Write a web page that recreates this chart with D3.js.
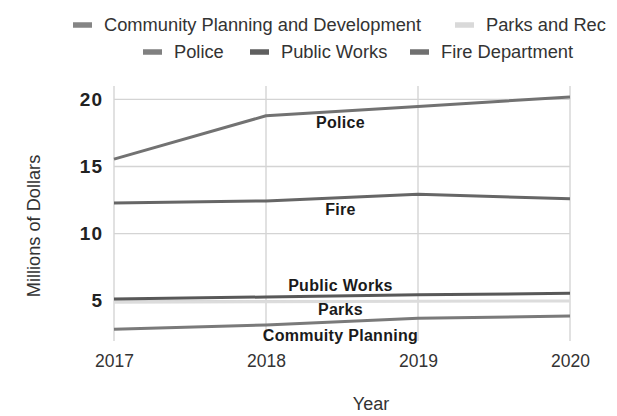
<!DOCTYPE html>
<html>
<head>
<meta charset="utf-8">
<script src="https://cdn.jsdelivr.net/npm/d3@7"></script>
<style>
  body { margin: 0; background: #fff; }
  svg { display: block; font-family: "Liberation Sans", Arial, sans-serif; }
</style>
</head>
<body>
<div id="chart"></div>
<script>
// chart data
const years = [2017, 2018, 2019, 2020];
const yTicks = [5, 10, 15, 20];
const communityPlanning = [2.87, 3.19, 3.69, 3.86];
const parksRec = [4.88, 4.92, 4.96, 4.98];
const police = [15.55, 18.78, 19.48, 20.18];
const publicWorks = [5.13, 5.28, 5.45, 5.55];
const fireDept = [12.29, 12.44, 12.94, 12.59];

const series = [
  { name: 'Community Planning and Development', values: communityPlanning, color: '#7a7a7a', swatch: '#858585' },
  { name: 'Parks and Rec', values: parksRec, color: '#dcdcdc', swatch: '#d9d9d9' },
  { name: 'Police', values: police, color: '#727272', swatch: '#808080' },
  { name: 'Public Works', values: publicWorks, color: '#585858', swatch: '#5f5f5f' },
  { name: 'Fire Department', values: fireDept, color: '#666666', swatch: '#707070' }
];

// inline labels, placed in data units
const lineLabels = [
  { text: 'Police', year: 2018.49, value: 18.28 },
  { text: 'Fire', year: 2018.49, value: 11.79 },
  { text: 'Public Works', year: 2018.49, value: 6.12 },
  { text: 'Parks', year: 2018.49, value: 4.4 },
  { text: 'Commuity Planning', year: 2018.49, value: 2.4 }
];

const width = 617;
const height = 416;
const margin = { top: 86, right: 47, bottom: 75, left: 114 };

// legend layout: [row, swatch x]
const legendPos = [[0, 73], [0, 455], [1, 143], [1, 250], [1, 410]];
const legendRowY = [25, 52];

const svg = d3.select('#chart')
  .append('svg')
  .attr('width', width)
  .attr('height', height);

const x = d3.scaleLinear()
  .domain([2017, 2020])
  .range([margin.left, width - margin.right]);

const y = d3.scaleLinear()
  .domain([2, 21])
  .range([height - margin.bottom, margin.top]);

// grid
const grid = svg.append('g').attr('class', 'grid');
grid.selectAll('.hgrid')
  .data(yTicks)
  .join('line')
  .attr('x1', x(2017))
  .attr('x2', x(2020))
  .attr('y1', d => y(d))
  .attr('y2', d => y(d))
  .attr('stroke', '#d4d4d4')
  .attr('stroke-width', 1.4);

grid.selectAll('.vgrid')
  .data(years)
  .join('line')
  .attr('x1', d => x(d))
  .attr('x2', d => x(d))
  .attr('y1', y.range()[1])
  .attr('y2', y.range()[0])
  .attr('stroke', '#d4d4d4')
  .attr('stroke-width', 1.4);

// axes (labels only)
const yAxis = svg.append('g')
  .attr('transform', `translate(${margin.left - 11},0)`)
  .call(d3.axisLeft(y).tickValues(yTicks).tickSize(0).tickPadding(0));
yAxis.select('.domain').remove();
yAxis.selectAll('text')
  .attr('font-family', '"Liberation Sans", Arial, sans-serif')
  .attr('font-size', 19)
  .attr('font-weight', 'bold')
  .attr('letter-spacing', 1)
  .attr('fill', '#222');

const xAxis = svg.append('g')
  .attr('transform', `translate(0,${height - margin.bottom + 14})`)
  .call(d3.axisBottom(x).tickValues(years).tickFormat(d3.format('d')).tickSize(0).tickPadding(0));
xAxis.select('.domain').remove();
xAxis.selectAll('text')
  .attr('font-family', '"Liberation Sans", Arial, sans-serif')
  .attr('font-size', 17.5)
  .attr('fill', '#333');

// axis titles
svg.append('text')
  .attr('x', 371)
  .attr('y', 410)
  .attr('text-anchor', 'middle')
  .attr('font-size', 18)
  .attr('fill', '#333')
  .text('Year');

svg.append('text')
  .attr('transform', `translate(40,226) rotate(-90)`)
  .attr('text-anchor', 'middle')
  .attr('font-size', 18.2)
  .attr('fill', '#333')
  .text('Millions of Dollars');

// lines
const line = d3.line()
  .x((d, i) => x(years[i]))
  .y(d => y(d));

svg.append('g')
  .selectAll('path')
  .data(series)
  .join('path')
  .attr('d', d => line(d.values))
  .attr('fill', 'none')
  .attr('stroke', d => d.color)
  .attr('stroke-width', 3)
  .attr('stroke-linejoin', 'round');

// inline labels
svg.append('g')
  .selectAll('text')
  .data(lineLabels)
  .join('text')
  .attr('x', d => x(d.year))
  .attr('y', d => y(d.value))
  .attr('dy', '0.36em')
  .attr('text-anchor', 'middle')
  .attr('font-size', 16)
  .attr('font-weight', 'bold')
  .attr('letter-spacing', 0.3)
  .attr('fill', '#1a1a1a')
  .text(d => d.text);

// legend
const legend = svg.append('g')
  .selectAll('g')
  .data(series)
  .join('g')
  .attr('transform', (d, i) => `translate(${legendPos[i][1]},${legendRowY[legendPos[i][0]]})`);

legend.append('rect')
  .attr('x', 0)
  .attr('y', -2.75)
  .attr('width', 19)
  .attr('height', 5.5)
  .attr('fill', d => d.swatch);

legend.append('text')
  .attr('x', 31)
  .attr('y', 0)
  .attr('dy', '0.35em')
  .attr('font-size', 18.3)
  .attr('fill', '#333')
  .text(d => d.name);
</script>
</body>
</html>
